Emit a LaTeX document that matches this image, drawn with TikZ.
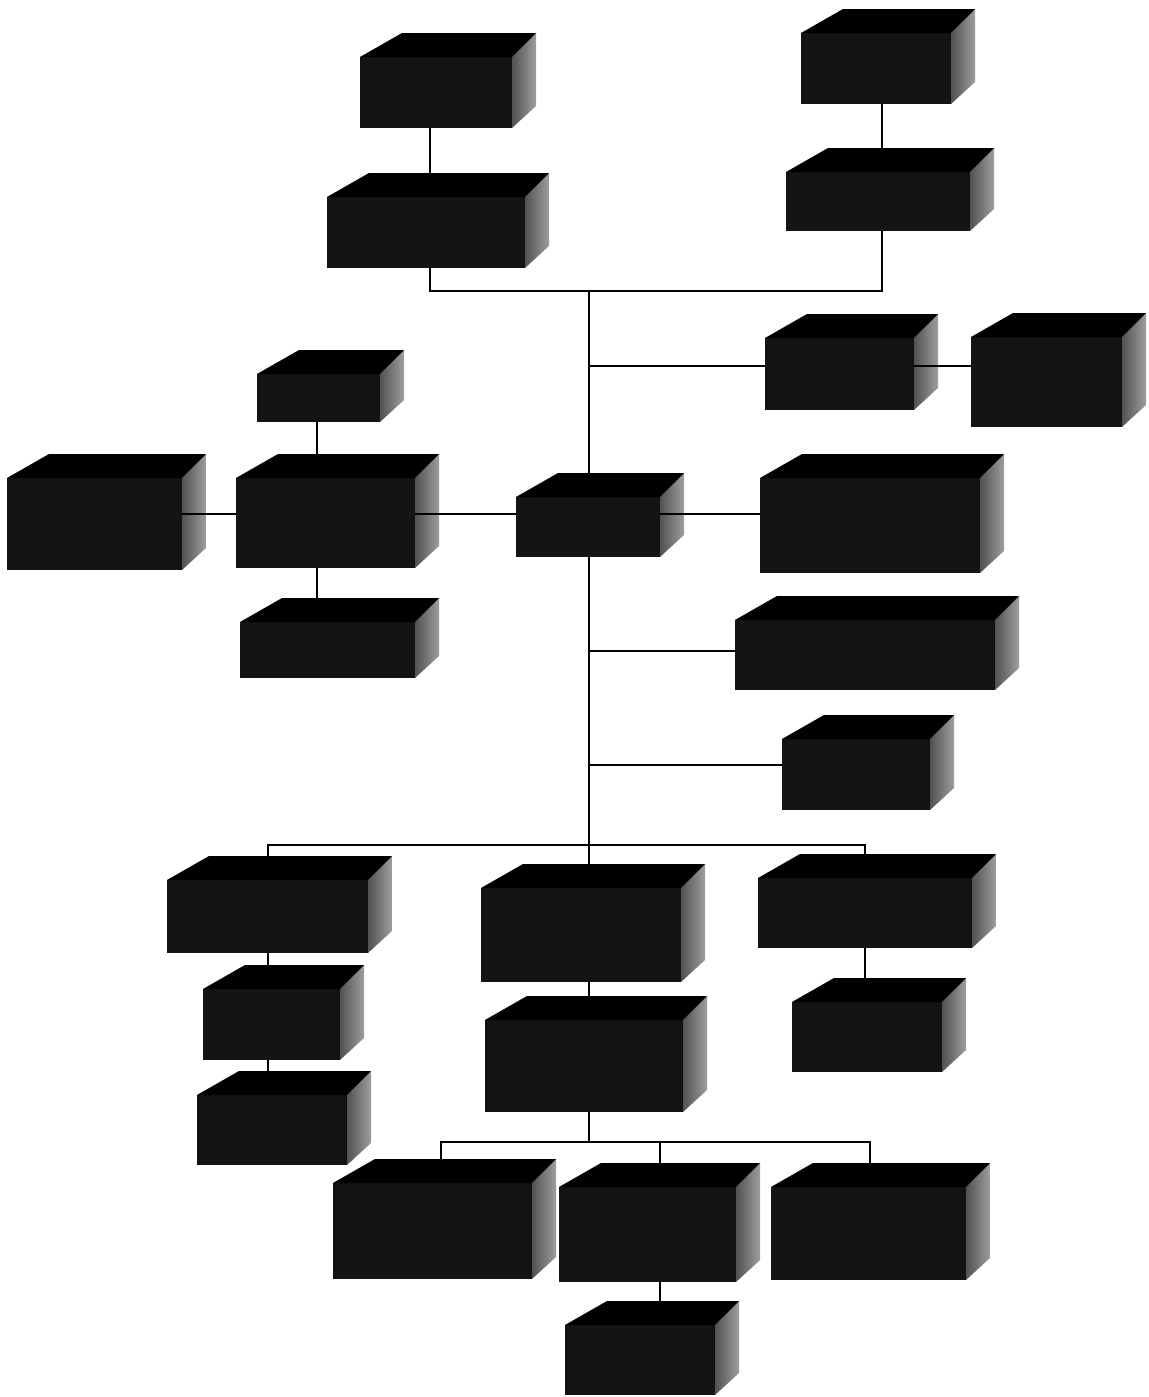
\documentclass[tikz,border=0pt]{standalone}
\usetikzlibrary{fit,calc}
\definecolor{frontc}{HTML}{141414}
\definecolor{topc}{HTML}{000000}
\tikzset{
  frontface/.style={rectangle, fill=frontc, draw=none, inner sep=0pt, outer sep=0pt},
  topface/.style={fill=topc},
  sideface/.style={left color=black!68, right color=black!38},
  link/.style={draw=black, line width=1.4pt},
}
\begin{document}
\begin{tikzpicture}[x=0.5pt,y=-0.5pt]
\fill[white] (0,0) rectangle (1148,1397);
\useasboundingbox (0,0) rectangle (1148,1397);
\foreach \n/\a/\b/\c/\d in {
  A/360/57/512/128, B/327/197/525/268, C/801/33/951/104, D/786/172/970/231,
  E/765/338/914/410, F/971/337/1122/427, G/516/497/660/557, H/760/478/980/573,
  I/257/374/380/422, J/7/478/182/570, K/236/478/415/568, L/240/622/415/678,
  M/735/620/995/690, N/782/739/930/810, O/167/880/368/953, P/203/989/340/1060,
  Q/197/1095/347/1165, R/481/888/681/982, S/758/878/972/948, T/485/1020/683/1112,
  U/792/1002/942/1072, V/333/1183/532/1279, W/559/1187/736/1282, X/771/1187/966/1280,
  Y/565/1325/715/1395}{
  \node[frontface, fit={(\a,\b)(\c,\d)}] (\n) {};
  \shade[sideface] (\n.north east) -- ++(24,-24) -- ($(\n.south east)+(24,-22)$) -- (\n.south east) -- cycle;
}
\coordinate (jl) at (430,291);
\coordinate (jr) at (882,291);
\coordinate (jt) at (589,291);
\coordinate (jE) at (589,366);
\coordinate (hG) at (589,514);
\coordinate (vK) at (317,514);
\coordinate (jM) at (589,651);
\coordinate (jN) at (589,765);
\coordinate (jb) at (589,845);
\coordinate (bl) at (268,845);
\coordinate (br) at (865,845);
\coordinate (jb2) at (589,1142);
\coordinate (d1) at (441,1142);
\coordinate (d2) at (660,1142);
\coordinate (d3) at (870,1142);
\draw[link] (A.south -| jl) -- (B.north -| jl);
\draw[link] (B.south -| jl) -- (jl) -- (jr) -- (D.south -| jr);
\draw[link] (C.south -| jr) -- (D.north -| jr);
\draw[link] (jt) -- (G.north -| jt);
\draw[link] (G.south -| jt) -- (jb) -- (R.north -| jb);
\draw[link] (jE) -- (E.west |- jE);
\draw[link] (E.east |- jE) -- (F.west |- jE);
\draw[link] (G.east |- hG) -- (H.west |- hG);
\draw[link] (K.east |- hG) -- (G.west |- hG);
\draw[link] (J.east |- hG) -- (K.west |- hG);
\draw[link] (I.south -| vK) -- (K.north -| vK);
\draw[link] (K.south -| vK) -- (L.north -| vK);
\draw[link] (jM) -- (M.west |- jM);
\draw[link] (jN) -- (N.west |- jN);
\draw[link] (O.north -| bl) -- (bl) -- (br) -- (S.north -| br);
\draw[link] (O.south -| bl) -- (P.north -| bl);
\draw[link] (P.south -| bl) -- (Q.north -| bl);
\draw[link] (R.south -| jb) -- (T.north -| jb);
\draw[link] (S.south -| br) -- (U.north -| br);
\draw[link] (T.south -| jb) -- (jb2);
\draw[link] (V.north -| d1) -- (d1) -- (d3) -- (X.north -| d3);
\draw[link] (d2) -- (W.north -| d2);
\draw[link] (W.south -| d2) -- (Y.north -| d2);
\foreach \n in {A,B,C,D,E,F,G,H,I,J,K,L,M,N,O,P,Q,R,S,T,U,V,W,X,Y}{
  \fill[topface] (\n.north west) -- ++(42,-24) -- ($(\n.north east)+(24,-24)$) -- (\n.north east) -- cycle;
}
\end{tikzpicture}
\end{document}
